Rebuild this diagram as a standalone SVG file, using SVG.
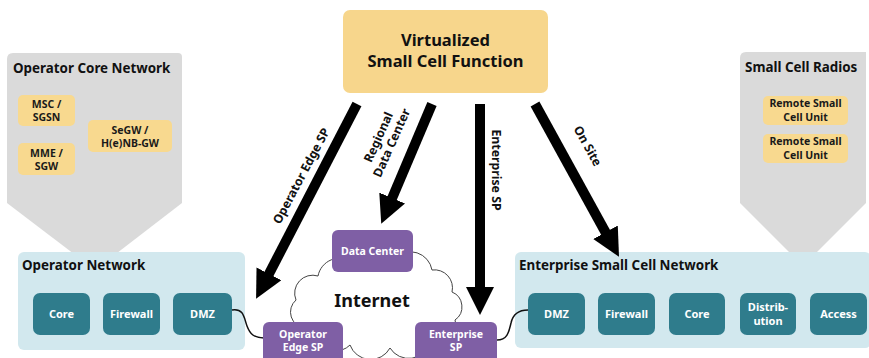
<svg xmlns="http://www.w3.org/2000/svg" width="869" height="358" viewBox="0 0 869 358">
<style>
text{font-family:"Noto Sans","Open Sans","Liberation Sans",sans-serif;font-weight:bold}
.title{font-size:13.4px;fill:#111}
.ybox{fill:#f8d98f}
.ytxt{font-size:10.5px;fill:#1a1a1a;text-anchor:middle}
.gray{fill:#dadada}
.blue{fill:#d2e8ee}
.teal{fill:#2f7c8c}
.ttxt{font-size:11px;fill:#fff;text-anchor:middle}
.purple{fill:#7f5fa5}
.ptxt{font-size:10.5px;fill:#fff;text-anchor:middle}
.arrow{stroke:#000;stroke-width:10;fill:none;marker-end:url(#ah)}
.alab{font-size:12.3px;fill:#111;text-anchor:middle}
.wire{stroke:#111;stroke-width:1.5;fill:none}
</style>
<defs>
<marker id="ah" markerUnits="userSpaceOnUse" markerWidth="30" markerHeight="30" refX="6" refY="14" orient="auto">
<path d="M0,0 L28,14 L0,28 Z" fill="#000"/>
</marker>
</defs>
<rect width="869" height="358" fill="#fff"/>

<g id="operator-core-network">
<path class="gray" d="M13,53 H178 Q182,53 182,57 V203 L95,270 L7,203 V59 Q7,53 13,53 Z"/>
<text class="title" x="13" y="73">Operator Core Network</text>
</g>
<g id="msc-sgsn">
<rect class="ybox" x="18" y="95" width="57" height="31" rx="5"/>
<text class="ytxt" x="46.5" y="108">MSC /</text>
<text class="ytxt" x="46.5" y="121">SGSN</text>
</g>
<g id="mme-sgw">
<rect class="ybox" x="18" y="143" width="57" height="32" rx="5"/>
<text class="ytxt" x="46.5" y="157">MME /</text>
<text class="ytxt" x="46.5" y="170">SGW</text>
</g>
<g id="segw">
<rect class="ybox" x="88" y="120" width="84" height="32" rx="5"/>
<text class="ytxt" x="130" y="134">SeGW /</text>
<text class="ytxt" x="130" y="147">H(e)NB-GW</text>
</g>

<g id="small-cell-radios">
<path class="gray" d="M746,52 H866 V203 L803,266 L740,203 V58 Q740,52 746,52 Z"/>
<text class="title" x="745" y="72" font-size="14">Small Cell Radios</text>
</g>
<g id="rscu1">
<rect class="ybox" x="763" y="96" width="85" height="29" rx="5"/>
<text class="ytxt" x="805.5" y="107">Remote Small</text>
<text class="ytxt" x="805.5" y="120.5">Cell Unit</text>
</g>
<g id="rscu2">
<rect class="ybox" x="763" y="134" width="85" height="29" rx="5"/>
<text class="ytxt" x="805.5" y="145">Remote Small</text>
<text class="ytxt" x="805.5" y="158.5">Cell Unit</text>
</g>

<g id="vscf">
<rect x="343" y="10" width="205" height="83" rx="7" fill="#f7d68c"/>
<text x="445.5" y="46" font-size="16.5" fill="#111" text-anchor="middle">Virtualized</text>
<text x="445.5" y="67" font-size="16.5" fill="#111" text-anchor="middle">Small Cell Function</text>
</g>

<g id="operator-network">
<rect class="blue" x="18" y="252" width="227" height="98" rx="6"/>
<text class="title" x="22" y="270">Operator Network</text>
</g>
<g id="op-core"><rect class="teal" x="33" y="293" width="57" height="42" rx="7"/><text class="ttxt" x="61.5" y="318">Core</text></g>
<g id="op-firewall"><rect class="teal" x="103" y="293" width="57" height="42" rx="7"/><text class="ttxt" x="131.5" y="318">Firewall</text></g>
<g id="op-dmz"><rect class="teal" x="173" y="293" width="59" height="42" rx="7"/><text class="ttxt" x="202.5" y="318">DMZ</text></g>

<g id="enterprise-network">
<rect class="blue" x="515" y="252" width="356" height="96" rx="6"/>
<text class="title" x="519" y="270">Enterprise Small Cell Network</text>
</g>
<g id="en-dmz"><rect class="teal" x="528" y="293" width="57" height="42" rx="7"/><text class="ttxt" x="556.5" y="318">DMZ</text></g>
<g id="en-firewall"><rect class="teal" x="598" y="293" width="57" height="42" rx="7"/><text class="ttxt" x="626.5" y="318">Firewall</text></g>
<g id="en-core"><rect class="teal" x="669" y="293" width="56" height="42" rx="7"/><text class="ttxt" x="697" y="318">Core</text></g>
<g id="en-distribution"><rect class="teal" x="740" y="293" width="56" height="42" rx="7"/><text class="ttxt" x="768" y="311">Distrib-</text><text class="ttxt" x="768" y="324.5">ution</text></g>
<g id="en-access"><rect class="teal" x="810" y="293" width="57" height="42" rx="7"/><text class="ttxt" x="838.5" y="318">Access</text></g>

<g id="internet">
<path d="M305,328 A16,16 0 0 1 296,300 A18,18 0 0 1 318,276 A22,22 0 0 1 352,262 A24,24 0 0 1 395,258 A22,22 0 0 1 432,270 A18,18 0 0 1 452,292 A16,16 0 0 1 455,320 A18,18 0 0 1 430,342 A22,22 0 0 1 390,348 A22,22 0 0 1 350,345 A20,20 0 0 1 318,340 A14,14 0 0 1 305,328 Z" fill="#fff" stroke="#444" stroke-width="1"/>
<text x="372" y="307" font-size="18" fill="#111" text-anchor="middle">Internet</text>
</g>

<g id="connectors">
<path class="wire" d="M232,310 C244,308 244,318 247,326 C250,334 254,338 264,338"/>
<path class="wire" d="M497,340 C508,340 509,331 511,323 C513,314 518,310 528,310"/>
<line class="arrow" x1="357" y1="104" x2="266.2" y2="279.2"/>
<line class="arrow" x1="432" y1="104" x2="389.8" y2="203.6"/>
<line class="arrow" x1="480" y1="104" x2="480" y2="293"/>
<line class="arrow" x1="535" y1="104" x2="608.4" y2="237.5"/>
<text class="alab" transform="translate(305,178) rotate(-62)">Operator Edge SP</text>
<text class="alab" transform="translate(385,140) rotate(-66)"><tspan x="0" y="-3">Regional</tspan><tspan x="0" y="11.5">Data Center</tspan></text>
<text class="alab" transform="translate(492,170) rotate(90)">Enterprise SP</text>
<text class="alab" transform="translate(584,148) rotate(61)">On Site</text>
</g>

<g id="data-center"><rect class="purple" x="332" y="230" width="81" height="42" rx="6"/><text class="ptxt" x="372.5" y="255">Data Center</text></g>
<g id="operator-edge-sp"><rect class="purple" x="263" y="322" width="80" height="44" rx="6"/><text class="ptxt" x="303" y="338">Operator</text><text class="ptxt" x="303" y="351">Edge SP</text></g>
<g id="enterprise-sp"><rect class="purple" x="415" y="322" width="82" height="44" rx="6"/><text class="ptxt" x="456" y="338">Enterprise</text><text class="ptxt" x="456" y="351">SP</text></g>
</svg>
